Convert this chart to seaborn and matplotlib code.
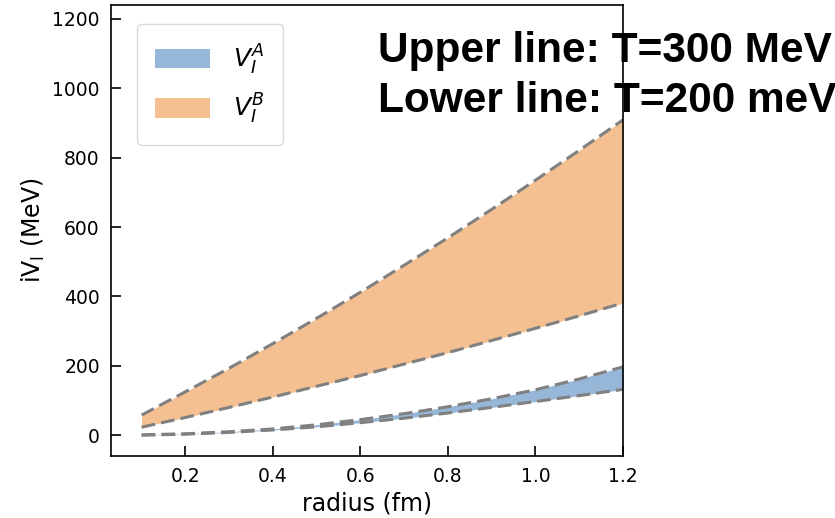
import numpy as np
import pandas as pd
import matplotlib
matplotlib.use("Agg")
import matplotlib.pyplot as plt
import seaborn as sns

radius = [0.1, 0.2, 0.3, 0.4, 0.5, 0.6, 0.7, 0.8, 0.9, 1.0, 1.1, 1.2]
va_upper = [1, 4, 10, 18, 30, 45, 62, 82, 105, 131, 162, 197]
va_lower = [0, 3, 8, 15, 24, 36, 49, 64, 80, 97, 114, 132]
vb_upper = [58, 125, 193, 264, 337, 412, 490, 569, 651, 735, 821, 909]
vb_lower = [23, 51, 80, 110, 141, 172, 205, 238, 273, 308, 344, 381]
x_ticks = [0.2, 0.4, 0.6, 0.8, 1.0, 1.2]
y_ticks = [0, 200, 400, 600, 800, 1000, 1200]

sns.set_style("ticks")
plt.rcParams['font.family'] = ['DejaVu Sans']
plt.rcParams.update({"text.color": "black", "axes.labelcolor": "black",
                     "xtick.color": "black", "ytick.color": "black"})

fig = plt.figure(figsize=(8.35, 5.18), dpi=100)
ax = fig.add_axes([0.1329, 0.1197, 0.6132, 0.8706])

blue = "#96b7d7"
orange = "#f4c091"
ax.fill_between(radius, va_lower, va_upper, color=blue, lw=0, label=r"$V_I^A$")
ax.fill_between(radius, vb_lower, vb_upper, color=orange, lw=0, label=r"$V_I^B$")

df = pd.DataFrame({"r": radius, "a1": va_upper, "a2": va_lower, "b1": vb_upper, "b2": vb_lower})
for col in ["a1", "a2", "b1", "b2"]:
    sns.lineplot(data=df, x="r", y=col, ax=ax, color="#808080", lw=2.2,
                 linestyle=(0, (4.5, 2)), legend=False)

ax.set_xlim(0.03, 1.2)
ax.set_ylim(-60, 1240)
ax.set_xticks(x_ticks)
ax.set_yticks(y_ticks)
ax.set_xticklabels([f"{t:.1f}" for t in x_ticks])
ax.tick_params(direction="in", length=7, width=1.2, labelsize=13.5, pad=8)
for s in ax.spines.values():
    s.set_linewidth(1.2)
    s.set_color("black")
ax.set_xlabel("radius (fm)", fontsize=17)
ax.set_ylabel(r"iV$_\mathregular{I}$ (MeV)", fontsize=17)

leg = ax.legend(loc="upper left", bbox_to_anchor=(0.05, 0.958), borderaxespad=0,
                fontsize=18, handlelength=2.2, handleheight=0.8, borderpad=0.75,
                labelspacing=0.6, handletextpad=0.9, frameon=True)
leg.get_frame().set_edgecolor("#d0d0d0")

fig.text(378 / 835, 1 - 51 / 518, "Upper line: T=300 MeV", fontsize=30.5,
         fontweight="bold", family="Liberation Sans", va="center", ha="left", color="black")
fig.text(378 / 835, 1 - 101 / 518, "Lower line: T=200 meV", fontsize=30.5,
         fontweight="bold", family="Liberation Sans", va="center", ha="left", color="black")

fig.savefig("out.png", dpi=100)
